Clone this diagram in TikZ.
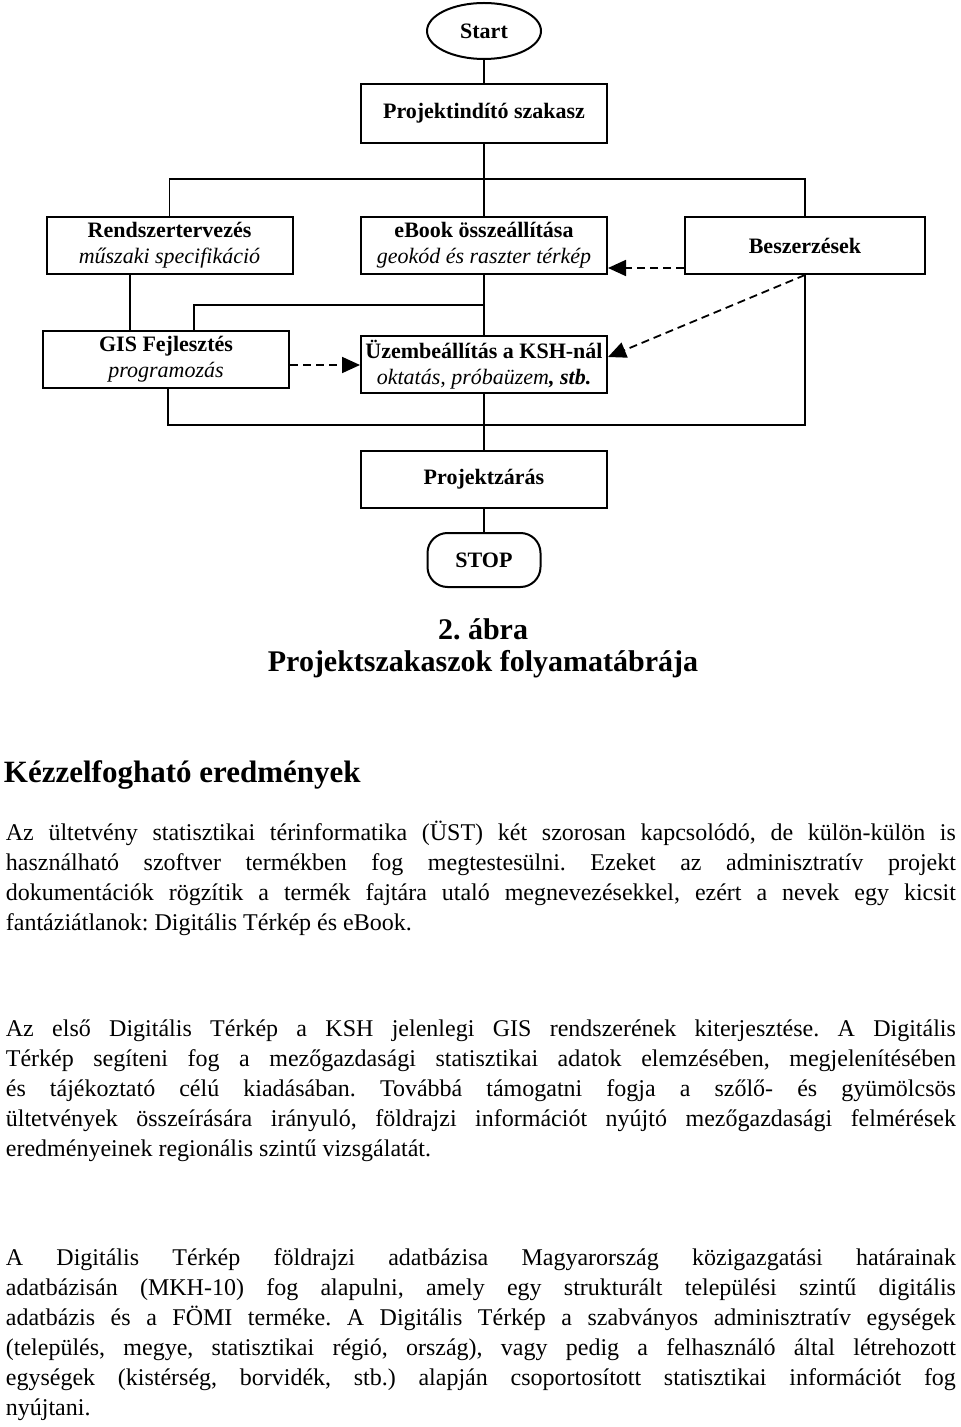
\documentclass[tikz,border=0pt]{standalone}
\usepackage{fontspec}
\setmainfont{Liberation Serif}
\usetikzlibrary{arrows.meta,shapes.geometric}
\frenchspacing

\begin{document}
\begin{tikzpicture}[x=0.5pt, y=-0.5pt, line width=0.9pt,
	every node/.style={font=\fontsize{11}{13}\selectfont},
	phase/.style={draw, line width=1pt, minimum width=123pt, minimum height=28.5pt, inner sep=2pt, align=center},
	terminal/.style={draw, line width=1pt, font=\fontsize{11}{13}\selectfont\bfseries, inner sep=0pt},
	dasharrow/.style={dash pattern=on 4pt off 2.5pt, -{Triangle[length=9pt,width=8pt]}},
	bodytext/.style={anchor=north west, inner sep=0pt, text width=475pt, align=justify, font=\fontsize{12}{15}\selectfont\frenchspacing}]
	\useasboundingbox (0,0) rectangle (960,1427);
	\node[ellipse, terminal, minimum width=57pt, minimum height=28pt] (start) at (484,31) {Start};
	\node[phase, minimum height=29.5pt] (indito) at (484,113.5) {\textbf{Projektindító szakasz}};
	\node[phase] (rendszer) at (169.5,245.5) {\textbf{Rendszertervezés}\\\textit{műszaki specifikáció}};
	\node[phase] (ebook) at (484,245.5) {\textbf{eBook összeállítása}\\\textit{geokód és raszter térkép}};
	\node[phase, minimum width=120pt] (beszer) at (805,245.5) {\textbf{Beszerzések}};
	\node[phase] (gis) at (166,359.5) {\textbf{GIS Fejlesztés}\\\textit{programozás}};
	\node[phase] (uzem) at (484,365) {\textbf{Üzembeállítás a KSH-nál}\\\textit{oktatás, próbaüzem}\textbf{\textit{, stb.}}};
	\node[phase] (zaras) at (484,479.5) {\textbf{Projektzárás}};
	\node[terminal, rounded corners=10pt, minimum width=56.5pt, minimum height=27pt] (stop) at (484,560) {STOP};
	\coordinate (topbar) at (484,179);
	\coordinate (gisbar) at (484,305);
	\coordinate (botbar) at (484,425);
	\draw (start) -- (indito);
	\draw (indito) -- (ebook);
	\draw (rendszer.north) |- (topbar) -| (beszer.north);
	\draw (ebook) -- (uzem);
	\draw (gisbar) -| ([xshift=14pt]gis.north);
	\draw ([xshift=-19.75pt]rendszer.south) -- ([xshift=-19.75pt]rendszer.south |- gis.north);
	\draw ([xshift=1pt]gis.south) |- (botbar) -| (beszer.south);
	\draw (uzem) -- (zaras);
	\draw (zaras) -- (stop);
	\draw[dasharrow] ([yshift=3.5pt]beszer.south west) -- ([yshift=3.5pt]ebook.south east);
	\draw[dasharrow] (beszer.south) -- ([yshift=4pt]uzem.east);
	\draw[dasharrow] (gis.east |- uzem.west) -- (uzem.west);
	\node[anchor=north, inner sep=0pt, align=center, font=\fontsize{15}{14.5}\selectfont\bfseries] (abra) at (483,618) {\strut 2. ábra\\Projektszakaszok folyamatábrája};
	\node[anchor=base west, inner sep=0pt, font=\fontsize{15.5}{18}\selectfont\bfseries] (cimsor) at (3,782) {Kézzelfogható eredmények};
	\node[bodytext] (bek1) at (5,819) {\noindent\strut Az ültetvény statisztikai térinformatika (ÜST) két szorosan kapcsolódó, de külön-külön is\linebreak használható szoftver termékben fog megtestesülni. Ezeket az adminisztratív projekt\linebreak dokumentációk rögzítik a termék fajtára utaló megnevezésekkel, ezért a nevek egy kicsit\linebreak fantáziátlanok: Digitális Térkép és eBook.};
	\node[bodytext] (bek2) at (5,1015) {\noindent\strut Az első Digitális Térkép a KSH jelenlegi GIS rendszerének kiterjesztése. A Digitális\linebreak Térkép segíteni fog a mezőgazdasági statisztikai adatok elemzésében, megjelenítésében\linebreak és tájékoztató célú kiadásában. Továbbá támogatni fogja a szőlő- és gyümölcsös\linebreak ültetvények összeírására irányuló, földrajzi információt nyújtó mezőgazdasági felmérések\linebreak eredményeinek regionális szintű vizsgálatát.};
	\node[bodytext] (bek3) at (5,1244) {\noindent\strut A Digitális Térkép földrajzi adatbázisa Magyarország közigazgatási határainak\linebreak adatbázisán (MKH-10) fog alapulni, amely egy strukturált települési szintű digitális\linebreak adatbázis és a FÖMI terméke. A Digitális Térkép a szabványos adminisztratív egységek\linebreak (település, megye, statisztikai régió, ország), vagy pedig a felhasználó által létrehozott\linebreak egységek (kistérség, borvidék, stb.) alapján csoportosított statisztikai információt fog\linebreak nyújtani.};
\end{tikzpicture}
\end{document}
